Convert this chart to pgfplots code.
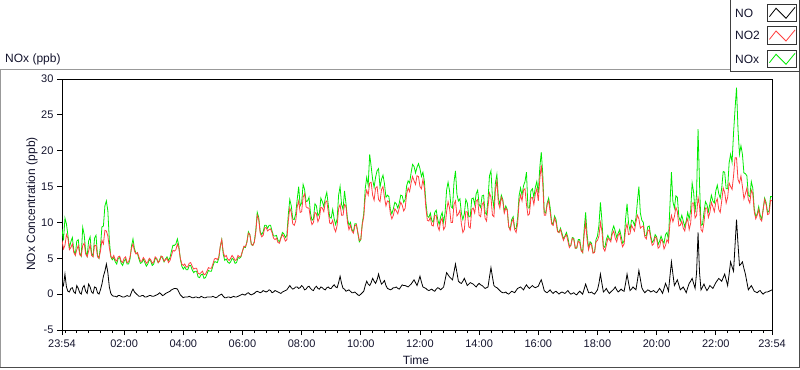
\documentclass[border=0pt]{standalone}
\usepackage{fontspec}
\setmainfont{Liberation Sans}
\usepackage{pgfplots}
\usepackage{pgfplotstable}
\pgfplotsset{compat=1.18}
\definecolor{nored}{RGB}{255,64,64}
\definecolor{nogreen}{RGB}{0,235,0}
\definecolor{txt}{RGB}{20,20,45}
\pgfplotstableread{
t no no2 nox
0.0 1.6 7.5 9.1
0.05 1.2 6.3 7.5
0.1 2.8 6.8 10.6
0.15 1.0 8.3 9.8
0.2 0.4 7.8 8.2
0.25 0.3 6.2 6.5
0.3 0.8 6.5 7.3
0.35 0.9 7.0 7.9
0.4 0.3 5.8 6.1
0.45 0.1 5.4 5.5
0.5 1.2 6.2 7.4
0.55 0.8 6.8 7.6
0.6 0.2 5.5 5.7
0.65 0.0 5.3 5.3
0.7 0.9 6.8 9.3
0.75 1.2 7.1 8.3
0.8 0.4 5.6 6.0
0.85 0.1 5.2 5.3
0.9 1.4 6.0 7.4
0.95 1.0 6.9 8.0
1.0 0.3 5.4 5.7
1.05 0.1 5.2 5.3
1.1 1.0 6.8 7.8
1.15 0.9 6.8 8.2
1.2 0.2 5.2 5.4
1.25 0.0 5.0 5.0
1.3 0.6 6.0 6.6
1.35 1.4 7.5 9.4
1.4 2.5 7.0 9.5
1.45 3.2 8.9 12.3
1.5 4.2 8.8 13.0
1.55 3.0 8.1 11.6
1.6 1.0 6.5 7.5
1.65 0.1 5.3 5.2
1.7 -0.2 5.0 4.8
1.75 -0.3 5.4 5.1
1.8 -0.3 4.8 4.5
1.85 -0.4 4.6 4.2
1.9 -0.2 5.2 5.0
1.95 -0.2 5.3 5.1
2.0 -0.3 4.6 4.3
2.05 -0.4 4.4 4.0
2.1 -0.4 5.0 4.6
2.15 -0.3 5.2 4.9
2.2 -0.2 4.4 4.2
2.25 -0.3 4.5 4.2
2.3 -0.3 5.2 4.9
2.35 0.3 6.4 6.7
2.4 0.7 7.0 7.7
2.45 0.3 6.0 6.3
2.5 0.1 5.6 5.7
2.55 -0.1 5.8 5.7
2.6 -0.3 5.2 4.9
2.65 -0.3 4.6 4.3
2.7 -0.2 4.6 4.4
2.75 -0.2 5.1 4.9
2.8 -0.4 4.8 4.4
2.85 -0.4 4.3 3.9
2.9 -0.3 4.5 4.2
2.95 -0.2 5.0 4.8
3.0 -0.2 4.8 4.6
3.05 -0.3 4.3 4.0
3.1 -0.3 4.5 4.2
3.15 -0.2 5.2 5.0
3.2 -0.1 5.0 4.9
3.25 0.0 4.4 4.4
3.3 0.2 4.6 4.8
3.35 0.0 5.3 5.3
3.4 -0.2 5.2 5.0
3.45 -0.1 4.6 4.5
3.5 0.1 4.8 4.9
3.55 0.2 5.0 5.2
3.6 0.3 4.4 4.7
3.65 0.4 4.7 5.1
3.7 0.6 5.4 6.0
3.75 0.7 6.1 6.8
3.8 0.8 6.0 6.8
3.85 0.8 6.2 7.0
3.9 0.7 7.0 7.7
3.95 0.3 6.4 6.7
4.0 -0.1 5.0 4.9
4.05 -0.3 4.2 3.9
4.1 -0.5 4.0 3.5
4.15 -0.4 4.2 3.8
4.2 -0.4 3.8 3.4
4.25 -0.4 3.8 3.4
4.3 -0.3 4.3 4.0
4.35 -0.4 4.4 4.0
4.4 -0.5 3.9 3.4
4.45 -0.5 3.5 3.0
4.5 -0.4 3.6 3.2
4.55 -0.4 3.6 3.2
4.6 -0.5 2.9 2.4
4.65 -0.5 2.8 2.3
4.7 -0.3 3.0 2.7
4.75 -0.4 3.2 2.8
4.8 -0.5 2.7 2.2
4.85 -0.5 2.8 2.3
4.9 -0.4 3.2 2.8
4.95 -0.4 3.7 3.3
5.0 -0.4 3.6 3.2
5.05 -0.4 3.6 3.2
5.1 -0.3 4.2 3.9
5.15 -0.4 4.9 4.5
5.2 -0.5 5.0 4.5
5.25 -0.4 4.8 4.4
5.3 -0.2 5.2 5.0
5.35 -0.1 6.7 6.6
5.4 0.0 7.6 7.6
5.45 -0.3 5.9 5.6
5.5 -0.5 5.2 4.7
5.55 -0.5 5.4 4.9
5.6 -0.4 4.9 4.5
5.65 -0.4 4.7 4.3
5.7 -0.5 5.0 4.5
5.75 -0.4 5.4 5.0
5.8 -0.3 5.1 4.8
5.85 -0.4 4.7 4.3
5.9 -0.4 4.8 4.4
5.95 -0.3 5.4 5.1
6.0 -0.2 5.2 5.0
6.05 -0.1 5.3 5.2
6.1 0.0 6.0 6.0
6.15 -0.1 6.7 6.6
6.2 -0.1 6.6 6.5
6.25 0.1 7.2 7.3
6.3 0.2 8.5 8.7
6.35 0.0 8.3 8.3
6.4 -0.1 7.0 6.9
6.45 0.0 6.8 6.8
6.5 0.1 7.2 7.3
6.55 0.3 8.6 8.9
6.6 0.4 11.0 11.4
6.65 0.3 10.4 10.7
6.7 0.2 8.5 8.7
6.75 0.3 8.0 8.3
6.8 0.5 8.2 8.7
6.85 0.4 9.2 9.6
6.9 0.3 9.3 9.6
6.95 0.4 8.8 9.2
7.0 0.6 9.0 9.6
7.05 0.5 9.1 9.6
7.1 0.2 8.6 8.8
7.15 0.3 7.8 8.1
7.2 0.5 7.6 8.1
7.25 0.4 7.8 8.2
7.3 0.3 7.2 7.5
7.35 0.2 7.1 7.3
7.4 0.1 7.8 7.9
7.45 0.3 8.3 8.6
7.5 0.4 8.0 8.4
7.55 0.5 7.4 7.9
7.6 0.6 7.6 8.2
7.65 0.9 10.2 11.1
7.7 1.2 12.0 13.2
7.75 0.9 11.4 12.3
7.8 0.7 9.8 10.5
7.85 0.8 9.6 10.4
7.9 1.0 10.2 11.2
7.95 1.0 12.2 13.2
8.0 0.8 13.0 15.0
8.05 0.9 11.4 12.3
8.1 1.2 11.5 12.7
8.15 1.0 13.5 15.3
8.2 0.6 14.0 14.6
8.25 0.7 12.2 12.9
8.3 1.0 12.0 13.0
8.35 1.1 12.0 13.5
8.4 0.8 10.5 11.3
8.45 0.6 9.7 10.3
8.5 0.5 10.0 10.5
8.55 0.9 11.4 12.6
8.6 1.1 11.2 12.3
8.65 0.8 10.1 10.9
8.7 0.7 10.6 11.3
8.75 1.0 12.1 13.4
8.8 0.9 12.0 12.9
8.85 0.7 11.5 12.2
8.9 0.6 12.8 13.4
8.95 0.9 13.0 14.2
9.0 1.0 11.5 12.5
9.05 0.8 9.9 10.7
9.1 0.8 9.8 10.6
9.15 1.1 10.3 11.8
9.2 1.3 9.2 10.5
9.25 1.0 8.7 9.7
9.3 0.9 9.6 10.5
9.35 1.6 11.9 13.8
9.4 2.5 12.5 15.0
9.45 1.5 11.0 12.5
9.5 0.8 11.0 11.8
9.55 0.7 12.5 14.4
9.6 0.4 12.2 12.6
9.65 0.5 10.0 10.5
9.7 0.6 9.0 9.6
9.75 0.4 9.6 10.0
9.8 0.2 8.8 9.0
9.85 0.2 8.5 8.7
9.9 0.3 9.5 9.8
9.95 0.1 9.7 9.8
10.0 -0.1 8.6 8.5
10.05 -0.2 7.5 7.3
10.1 0.0 7.6 7.6
10.15 0.2 9.7 9.9
10.2 0.4 10.8 11.2
10.25 1.2 13.5 14.7
10.3 1.8 14.5 16.3
10.35 1.4 13.8 15.2
10.4 1.2 15.5 19.5
10.45 1.6 15.6 17.8
10.5 2.2 13.8 16.0
10.55 1.8 13.1 14.9
10.6 1.5 14.8 16.3
10.65 2.0 15.0 17.2
10.7 2.8 13.2 17.5
10.75 2.0 12.9 14.9
10.8 1.4 14.6 16.0
10.85 1.6 15.0 16.6
10.9 1.9 13.5 15.4
10.95 1.2 12.3 13.5
11.0 0.8 13.0 13.8
11.05 0.7 12.9 13.6
11.1 0.6 11.2 11.8
11.15 0.7 10.5 11.2
11.2 0.9 11.0 11.9
11.25 0.9 11.9 12.8
11.3 1.0 11.6 12.6
11.35 0.8 11.2 12.0
11.4 0.7 12.0 12.7
11.45 1.0 12.8 13.8
11.5 1.3 12.4 13.7
11.55 1.2 11.6 12.8
11.6 1.2 12.0 13.2
11.65 1.1 14.0 15.1
11.7 1.0 14.8 15.8
11.75 1.2 14.3 15.5
11.8 1.4 15.5 16.9
11.85 1.7 16.4 18.1
11.9 2.0 15.8 17.8
11.95 1.6 15.3 16.9
12.0 1.2 16.5 17.7
12.05 1.8 16.4 18.2
12.1 2.5 15.0 17.5
12.15 1.7 14.7 16.4
12.2 1.0 16.0 17.0
12.25 0.9 14.8 15.7
12.3 0.8 12.0 12.8
12.35 0.6 10.3 10.9
12.4 0.5 10.2 10.7
12.45 0.6 10.7 11.3
12.5 0.7 9.6 10.3
12.55 0.5 9.5 10.0
12.6 0.4 11.0 11.4
12.65 0.7 11.0 11.7
12.7 0.9 9.5 10.4
12.75 0.8 8.9 9.7
12.8 0.6 10.2 10.8
12.85 0.8 10.6 11.4
12.9 1.0 9.0 10.0
12.95 2.0 9.4 11.4
13.0 3.0 11.5 14.5
13.05 2.7 12.9 15.6
13.1 2.4 12.0 14.4
13.15 2.2 10.0 12.2
13.2 2.0 10.0 12.0
13.25 3.1 12.5 15.6
13.3 4.2 13.0 17.2
13.35 3.0 10.9 13.9
13.4 1.8 11.2 13.0
13.45 1.6 11.7 13.3
13.5 1.5 9.8 11.3
13.55 1.8 8.6 10.4
13.6 2.2 9.0 11.2
13.65 1.7 11.5 13.2
13.7 1.2 11.5 12.7
13.75 1.4 9.4 10.8
13.8 1.6 9.2 10.8
13.85 1.5 11.8 13.3
13.9 1.4 12.0 13.4
13.95 1.2 11.3 12.5
14.0 1.0 13.0 14.0
14.05 1.3 13.2 14.5
14.1 1.5 11.0 12.5
14.15 1.3 10.8 12.1
14.2 1.2 12.5 13.7
14.25 1.0 12.8 13.8
14.3 0.8 10.6 11.4
14.35 0.9 10.2 11.1
14.4 1.0 12.2 13.2
14.45 2.4 14.1 16.5
14.5 3.7 13.5 17.2
14.55 2.4 11.0 13.4
14.6 1.2 10.8 12.0
14.65 1.0 14.5 15.5
14.7 0.9 15.8 16.7
14.75 0.7 12.7 13.4
14.8 0.5 12.0 12.5
14.85 0.3 13.5 13.8
14.9 0.2 13.0 13.2
14.95 0.2 11.3 11.5
15.0 0.3 12.0 12.3
15.05 0.1 11.7 11.8
15.1 0.0 9.4 9.4
15.15 0.2 8.9 9.1
15.2 0.4 10.0 10.4
15.25 0.3 10.5 10.8
15.3 0.2 9.0 9.2
15.35 0.5 8.6 9.1
15.4 0.8 9.8 10.6
15.45 0.9 12.8 13.7
15.5 1.0 13.8 14.8
15.55 0.8 13.0 13.8
15.6 0.6 14.5 15.1
15.65 1.0 14.7 15.7
15.7 1.3 12.5 17.0
15.75 1.0 11.0 12.0
15.8 0.8 11.2 12.0
15.85 1.0 13.4 14.4
15.9 1.2 13.5 14.7
15.95 1.0 12.5 13.5
16.0 0.9 14.0 14.9
16.05 1.0 14.7 15.7
16.1 1.1 13.0 14.1
16.15 1.6 16.0 17.6
16.2 2.0 18.0 19.8
16.25 1.3 15.5 16.8
16.3 0.5 11.0 11.5
16.35 0.3 11.0 11.3
16.4 0.2 12.5 12.7
16.45 0.4 13.0 13.4
16.5 0.6 11.5 12.1
16.55 0.3 9.8 10.1
16.6 0.1 9.6 9.7
16.65 0.3 10.6 10.9
16.7 0.4 10.0 10.4
16.75 0.2 8.7 8.9
16.8 0.0 8.6 8.6
16.85 0.2 9.0 9.2
16.9 0.3 8.2 8.5
16.95 0.2 7.5 7.7
17.0 0.1 8.0 8.1
17.05 0.3 8.3 8.6
17.1 0.5 7.4 7.9
17.15 0.2 6.5 6.7
17.2 0.0 6.8 6.8
17.25 0.1 7.8 7.9
17.3 0.2 7.6 7.8
17.35 0.0 6.4 6.4
17.4 -0.1 6.5 6.4
17.45 0.2 7.4 7.6
17.5 0.4 7.2 7.6
17.55 0.2 6.0 6.2
17.6 0.0 5.8 5.8
17.65 0.7 8.3 9.0
17.7 1.4 10.0 11.4
17.75 0.8 7.5 8.3
17.8 0.2 6.2 6.4
17.85 0.2 7.1 7.3
17.9 0.3 6.8 7.1
17.95 0.1 5.7 5.8
18.0 0.0 5.8 5.8
18.05 0.3 7.3 7.6
18.1 0.6 7.5 8.1
18.15 1.5 8.1 9.6
18.2 2.8 10.0 12.8
18.25 1.5 8.8 10.3
18.3 0.3 6.4 6.7
18.35 0.5 6.0 6.5
18.4 0.8 6.8 7.6
18.45 0.4 7.8 8.2
18.5 0.1 7.6 7.7
18.55 0.3 7.3 7.6
18.6 0.5 8.4 8.9
18.65 0.7 8.8 9.5
18.7 1.0 7.8 8.8
18.75 0.6 7.3 7.9
18.8 0.3 8.2 8.5
18.85 0.5 8.5 9.0
18.9 0.7 7.4 8.1
18.95 0.5 6.6 7.1
19.0 0.4 7.0 7.4
19.05 1.5 9.0 10.5
19.1 2.8 9.8 12.6
19.15 1.6 8.3 9.9
19.2 0.5 8.4 8.9
19.25 0.7 9.6 10.3
19.3 1.0 9.2 10.2
19.35 0.8 8.8 9.6
19.4 0.6 10.0 10.6
19.45 1.9 11.0 12.9
19.5 3.3 10.5 15.0
19.55 2.1 9.2 11.3
19.6 0.9 9.4 10.3
19.65 0.5 9.5 10.0
19.7 0.2 8.0 8.2
19.75 0.4 7.7 8.1
19.8 0.6 8.8 9.4
19.85 0.5 9.0 9.5
19.9 0.3 7.8 8.1
19.95 0.4 6.8 7.2
20.0 0.5 7.0 7.5
20.05 0.3 8.0 8.3
20.1 0.2 7.8 8.0
20.15 0.5 6.4 6.9
20.2 0.8 6.6 7.4
20.25 0.5 7.6 8.1
20.3 0.1 7.4 7.5
20.35 0.8 6.3 7.1
20.4 1.5 6.8 8.3
20.45 1.0 7.6 8.6
20.5 0.4 7.2 7.6
20.55 2.5 9.9 12.4
20.6 4.5 11.0 17.0
20.65 2.8 10.1 12.9
20.7 1.2 10.8 12.0
20.75 1.6 12.1 13.7
20.8 2.0 11.5 13.5
20.85 1.3 9.5 10.8
20.9 0.6 9.6 10.2
20.95 0.8 10.2 11.0
21.0 1.0 9.2 10.2
21.05 0.6 8.8 9.4
21.1 0.2 10.0 10.2
21.15 0.9 10.5 11.4
21.2 1.5 9.0 10.5
21.25 1.8 9.9 11.7
21.3 2.2 12.7 15.5
21.35 1.5 12.7 14.2
21.4 0.8 10.6 11.4
21.45 3.0 11.0 14.0
21.5 8.6 13.5 23.0
21.55 3.0 12.3 15.3
21.6 0.6 9.0 9.6
21.65 1.0 8.7 9.7
21.7 1.4 10.0 11.4
21.75 0.9 12.0 12.9
21.8 0.5 12.0 12.5
21.85 0.8 10.7 11.5
21.9 1.2 11.4 12.6
21.95 1.0 12.8 13.8
22.0 0.8 12.2 13.0
22.05 1.2 11.5 12.7
22.1 1.6 12.8 14.4
22.15 1.9 13.3 15.2
22.2 2.2 11.8 14.0
22.25 2.0 11.4 13.4
22.3 1.8 13.0 14.8
22.35 2.3 14.8 17.1
22.4 2.8 14.2 17.0
22.45 2.0 12.7 14.7
22.5 1.2 13.5 14.7
22.55 2.8 15.5 18.3
22.6 4.5 15.0 19.5
22.65 3.8 14.6 18.4
22.7 3.2 16.5 22.5
22.75 6.8 19.0 25.8
22.8 10.4 19.0 28.8
22.85 7.0 16.0 23.0
22.9 4.0 15.5 19.5
22.95 4.2 16.5 20.7
23.0 4.5 15.0 19.5
23.05 3.6 13.3 16.9
23.1 2.8 14.0 16.8
23.15 1.7 14.8 16.5
23.2 0.6 13.2 13.8
23.25 0.9 12.7 13.6
23.3 1.2 14.5 15.7
23.35 0.8 14.0 14.8
23.4 0.4 11.5 11.9
23.45 0.3 10.5 10.8
23.5 0.2 11.0 11.2
23.55 0.4 11.8 12.2
23.6 0.5 10.5 11.0
23.65 0.2 10.2 10.4
23.7 0.0 11.8 11.8
23.75 0.2 13.2 13.4
23.8 0.3 12.5 12.8
23.85 0.3 11.1 11.4
23.9 0.4 11.2 11.6
23.95 0.5 13.1 13.6
24.0 0.6 13.0 13.6
}\datatable
\begin{document}
\begin{tikzpicture}[x=1bp,y=1bp]
\path[use as bounding box] (0,0) rectangle (800,369);
% outer frame
\draw[black!40, line width=1bp] (0.5,1.5) -- (0.5,299.5) -- (799.5,299.5);
\draw[black!70, line width=1bp] (0.5,1.5) -- (799.5,1.5) -- (799.5,299.5);
\node[anchor=base west, font=\fontsize{12bp}{14bp}\selectfont, text=txt, inner sep=0] at (5,307) {NOx (ppb)};
\begin{axis}[
  at={(62bp,39bp)}, anchor=south west,
  scale only axis, width=710bp, height=251bp,
  xmin=0, xmax=24, ymin=-5, ymax=30,
  axis line style={black, line width=0.9bp},
  tick pos=left, tick align=outside,
  xtick={0,2.1,4.1,6.1,8.1,10.1,12.1,14.1,16.1,18.1,20.1,22.1,24},
  xticklabels={23:54,02:00,04:00,06:00,08:00,10:00,12:00,14:00,16:00,18:00,20:00,22:00,23:54},
  minor xtick={0.1,0.5,...,23.8},
  ytick={-5,0,5,10,15,20,25,30},
  yticklabels={-5,0,5,10,15,20,25,30},
  major tick length=5bp, minor tick length=3bp,
  every tick/.style={black, line width=0.8bp},
  ticklabel style={font=\fontsize{11bp}{13bp}\selectfont, text=txt},
  xticklabel style={yshift=-1bp},
  xlabel={Time}, ylabel={NOx Concentration (ppb)},
  label style={font=\fontsize{12bp}{14bp}\selectfont, text=txt},
  xlabel style={at={(axis description cs:0.4986,-0.1195)}, anchor=center},
  ylabel style={at={(axis description cs:-0.0423,0.502)}, anchor=center},
  clip=true,
]
\addplot[nogreen, line width=0.8bp, mark=none] table[x=t, y=nox] {\datatable};
\addplot[nored, line width=0.8bp, mark=none] table[x=t, y=no2] {\datatable};
\addplot[black, line width=0.8bp, mark=none] table[x=t, y=no] {\datatable};
\end{axis}
% legend
\draw[black!75, fill=white, line width=1bp] (730,369.5) -- (730,297.5) -- (799.5,297.5) -- (799.5,369.5);
\foreach \yt/\lab/\col in {365/NO/black, 342.3/NO2/nored, 319/NOx/nogreen}{
  \node[anchor=west, font=\fontsize{12bp}{14bp}\selectfont, text=txt, inner sep=0] at (735,\yt-9) {\lab};
  \draw[black!80, fill=white, line width=0.8bp] (767.7,\yt) rectangle (796.7,\yt-17.7);
  \draw[\col, line width=0.8bp] (769.4,\yt-12.7) -- (776,\yt-4.3) -- (786,\yt-14.3) -- (795,\yt-3.3);
}
\end{tikzpicture}
\end{document}
